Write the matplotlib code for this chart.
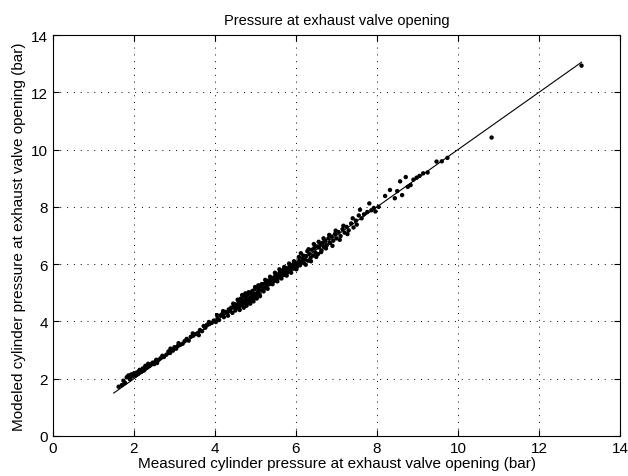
"""Measured vs modeled cylinder pressure at exhaust valve opening (parity plot)."""

import matplotlib

matplotlib.use("Agg")
import matplotlib.pyplot as plt

plt.rcParams["font.family"] = ["Liberation Sans", "DejaVu Sans"]

# measured (x) / modeled (y) pressure, bar
measured = [
    1.62, 1.70, 1.74, 1.78, 1.82, 1.86, 1.90, 1.93, 1.97, 2.00, 2.04, 2.07, 2.10, 2.14,
    2.18, 2.22, 2.25, 2.28, 2.31, 2.35, 2.38, 2.42, 2.46, 2.50, 2.53, 2.57, 2.61, 2.66,
    2.70, 2.74, 2.80, 2.85, 2.89, 2.92, 2.96, 3.00, 3.04, 3.08, 3.14, 3.20, 3.25, 3.30,
    3.35, 3.40, 3.46, 3.52, 3.58, 3.63, 3.68, 3.72, 3.76, 3.80, 3.86, 3.92, 3.97,
    4.02, 4.06, 4.10, 4.14, 4.18, 4.22, 4.26, 4.30, 4.34, 4.37, 4.40, 4.43, 4.46, 4.49,
    4.52, 4.55, 4.58, 4.60, 4.62, 4.64, 4.66, 4.68, 4.70, 4.72, 4.74, 4.76, 4.78, 4.80,
    4.82, 4.84, 4.86, 4.88, 4.90, 4.92, 4.94, 4.96, 4.98, 5.00, 5.02, 5.04, 5.06, 5.08,
    5.10, 5.13, 5.16, 5.19,
    5.22, 5.25, 5.28, 5.31, 5.34, 5.37, 5.40, 5.43, 5.46, 5.49, 5.52, 5.55, 5.57, 5.60,
    5.62, 5.65, 5.68, 5.70, 5.73, 5.76, 5.78, 5.81, 5.84, 5.86, 5.89, 5.92, 5.94, 5.97,
    6.00, 6.02, 6.05, 6.08, 6.10, 6.13, 6.16, 6.19, 6.22, 6.25,
    6.28, 6.30, 6.33, 6.36, 6.39, 6.42, 6.45, 6.48, 6.51, 6.54, 6.57, 6.60, 6.63, 6.66,
    6.69, 6.72, 6.76, 6.80, 6.84, 6.88, 6.92, 6.96, 7.00, 7.05, 7.10, 7.15, 7.20, 7.25,
    7.30, 7.36, 7.42, 7.48, 7.50, 7.55, 7.58,
    7.62, 7.68, 7.76, 7.81, 7.86, 7.92, 7.96, 8.04, 8.20, 8.32, 8.44, 8.50, 8.57, 8.62,
    8.71, 8.76, 8.83, 8.90, 8.98, 9.05, 9.14, 9.25, 9.47, 9.60, 9.74,
    10.83, 13.05,
    # second pass over the thicker part of the cloud
    4.45, 4.50, 4.56, 4.61, 4.67, 4.71, 4.75, 4.79, 4.83, 4.87, 4.91, 4.95, 4.99, 5.03,
    5.07, 5.11, 5.15, 5.20, 5.24, 5.30, 5.36, 5.42, 5.48, 5.54, 5.59, 5.64, 5.71, 5.77,
    5.83, 5.88, 5.95, 6.01, 6.07, 6.12, 6.18, 6.24, 6.31, 6.37, 6.44, 6.50, 6.56, 6.62,
    6.68, 6.74, 6.82, 6.90, 6.98, 7.08, 7.17, 7.27, 7.40,
    3.45, 3.60, 3.85, 4.05, 4.20, 4.32, 2.20, 2.55, 2.90, 3.10, 1.88, 2.12,
]
modeled = [
    1.72, 1.78, 1.93, 1.85, 2.05, 2.11, 1.98, 2.15, 2.08, 2.19, 2.12, 2.22, 2.17, 2.31,
    2.24, 2.36, 2.29, 2.45, 2.38, 2.52, 2.44, 2.50, 2.56, 2.51, 2.60, 2.55, 2.66, 2.72,
    2.80, 2.76, 2.84, 2.95, 2.90, 3.02, 2.98, 3.10, 3.05, 3.14, 3.18, 3.22, 3.31, 3.39,
    3.33, 3.46, 3.50, 3.56, 3.60, 3.70, 3.66, 3.84, 3.78, 3.88, 3.91, 3.95, 4.03,
    3.98, 4.10, 4.05, 4.21, 4.26, 4.15, 4.33, 4.28, 4.42, 4.36, 4.48, 4.30, 4.52, 4.60,
    4.45, 4.58, 4.70, 4.50, 4.66, 4.80, 4.58, 4.74, 4.62, 4.88, 4.70, 4.82, 4.55, 4.92,
    4.76, 4.68, 4.98, 4.84, 4.74, 5.06, 4.90, 4.80, 5.12, 4.96, 4.88, 5.18, 5.02, 5.10,
    4.95, 5.22, 5.08, 5.30,
    5.16, 5.34, 5.25, 5.42, 5.30, 5.46, 5.38, 5.52, 5.41, 5.60, 5.48, 5.64, 5.53, 5.72,
    5.58, 5.68, 5.80, 5.62, 5.76, 5.86, 5.70, 5.82, 5.92, 5.76, 5.88, 5.98, 5.84, 5.93,
    6.05, 5.90, 6.00, 6.12, 5.96, 6.08, 6.20, 6.04, 6.16, 6.28,
    6.45, 6.12, 6.36, 6.22, 6.50, 6.30, 6.56, 6.40, 6.62, 6.35, 6.58, 6.70, 6.48, 6.75,
    6.60, 6.82, 6.66, 6.90, 6.74, 6.96, 6.82, 7.05, 6.90, 7.12, 6.98, 7.22, 7.10, 7.30,
    7.18, 7.42, 7.28, 7.52, 7.38, 7.70, 7.90,
    7.60, 7.74, 7.82, 8.12, 7.88, 7.96, 7.84, 8.00, 8.38, 8.59, 8.30, 8.55, 8.89, 8.41,
    9.04, 8.70, 8.76, 8.95, 9.02, 9.08, 9.17, 9.20, 9.58, 9.59, 9.71,
    10.42, 12.93,
    4.62, 4.38, 4.76, 4.40, 4.92, 4.48, 4.98, 4.64, 5.02, 4.62, 4.98, 4.70, 5.20, 4.80,
    5.26, 4.88, 5.30, 5.05, 5.45, 5.14, 5.56, 5.30, 5.70, 5.40, 5.82, 5.50, 5.90, 5.60,
    6.02, 5.70, 6.10, 5.82, 6.25, 6.38, 6.30, 5.98, 6.52, 6.10, 6.70, 6.25, 6.78, 6.42,
    6.90, 6.55, 7.02, 6.64, 7.17, 6.85, 7.34, 7.05, 7.60,
    3.58, 3.52, 3.98, 4.22, 4.36, 4.20, 2.28, 2.66, 3.05, 3.24, 2.10, 2.26,
]

# y = x reference line
ref_line = [1.5, 13.05]

fig = plt.figure(figsize=(6.28, 4.77), dpi=100)
ax = fig.add_axes([53 / 628, 1 - 437 / 477, 567 / 628, 401 / 477])

ax.plot(ref_line, ref_line, color="black", lw=0.8)
ax.scatter(measured, modeled, s=10, color="black", edgecolors="none", zorder=3)

ax.set_xlim(0, 14)
ax.set_ylim(0, 14)
ax.set_xticks(range(0, 15, 2))
ax.set_yticks(range(0, 15, 2))
ax.grid(True, linestyle=(0, (1, 6)), color="black", lw=0.7)
ax.tick_params(direction="in", top=True, right=True, labelsize=11, length=4)
for s in ax.spines.values():
    s.set_linewidth(0.8)

ax.set_title("Pressure at exhaust valve opening", fontsize=10.5, pad=8)
ax.set_xlabel("Measured cylinder pressure at exhaust valve opening (bar)", fontsize=11, labelpad=1)
ax.set_ylabel("Modeled cylinder pressure at exhaust valve opening (bar)", fontsize=11, labelpad=4)

fig.savefig("out.png", dpi=100)
